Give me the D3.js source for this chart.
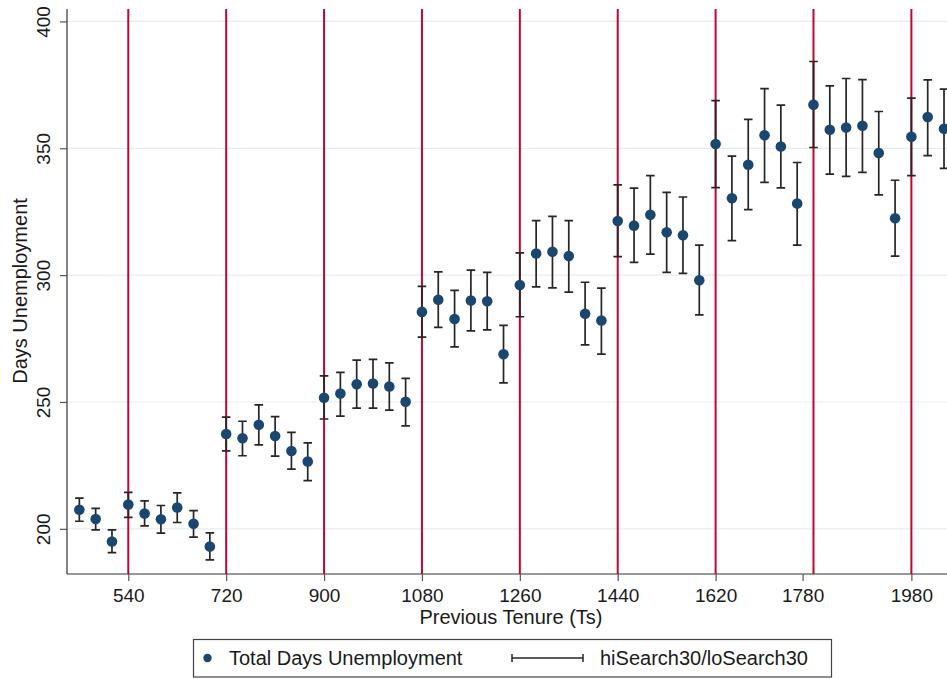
<!DOCTYPE html>
<html>
<head>
<meta charset="utf-8">
<script src="https://cdnjs.cloudflare.com/ajax/libs/d3/7.8.5/d3.min.js"></script>
<style>
    body { margin: 0; background: #fff; }
    svg { display: block; font-family: "Liberation Sans", Arial, sans-serif; }
</style>
</head>
<body>
<svg id="chart" width="947" height="679"></svg>
<script>
// previous tenure bins (Ts)
var tenure = [450, 480, 510, 540, 570, 600, 630, 660, 690, 720, 750, 780, 810, 840, 870,
    900, 930, 960, 990, 1020, 1050, 1080, 1110, 1140, 1170, 1200, 1230, 1260, 1290, 1320,
    1350, 1380, 1410, 1440, 1470, 1500, 1530, 1560, 1590, 1620, 1650, 1680, 1710, 1740,
    1770, 1800, 1830, 1860, 1890, 1920, 1950, 1980, 2010, 2040];

// Total Days Unemployment (mean)
var meanDays = [207.5, 203.9, 195.0, 209.6, 206.0, 203.8, 208.4, 202.0, 193.0, 237.4, 235.7,
    241.0, 236.6, 230.7, 226.5, 251.7, 253.3, 257.0, 257.3, 256.1, 250.1, 285.5, 290.3, 282.7,
    290.0, 289.7, 268.8, 296.1, 308.5, 309.2, 307.5, 284.8, 282.1, 321.3, 319.5, 323.8, 316.9,
    315.7, 298.0, 351.7, 330.3, 343.5, 355.1, 350.7, 328.2, 367.2, 357.3, 358.2, 358.9, 348.1,
    322.4, 354.5, 362.3, 357.7];

// hiSearch30 / loSearch30 band
var hiSearch = [212.1, 208.1, 199.6, 214.4, 211.0, 209.2, 214.2, 207.2, 198.4, 244.0, 242.4,
    248.9, 244.2, 238.0, 233.9, 260.3, 261.7, 266.5, 266.8, 265.4, 259.3, 295.6, 301.3, 294.0,
    302.0, 301.1, 280.2, 308.8, 321.5, 323.2, 321.5, 297.2, 294.9, 335.6, 334.3, 339.2, 332.6,
    330.8, 311.8, 368.8, 346.9, 361.4, 373.5, 367.0, 344.4, 384.2, 374.6, 377.5, 377.1, 364.5,
    337.4, 369.8, 377.0, 373.3];
var loSearch = [203.0, 199.6, 190.6, 204.5, 201.2, 198.3, 202.5, 196.7, 187.8, 230.7, 228.8,
    233.1, 228.7, 223.5, 219.0, 243.3, 244.4, 247.6, 247.6, 246.8, 240.6, 275.6, 279.4, 271.7,
    278.0, 278.4, 257.5, 283.6, 295.4, 295.0, 293.3, 272.5, 268.9, 307.3, 305.0, 308.3, 301.1,
    300.7, 284.3, 334.5, 313.6, 325.8, 336.6, 334.4, 311.8, 350.3, 339.8, 338.9, 340.5, 331.6,
    307.5, 339.2, 347.1, 342.1];

var xTicks = [540, 720, 900, 1080, 1260, 1440, 1620, 1780, 1980];
var yTicks = [200, 250, 300, 350, 400];
var cutoffs = [540, 720, 900, 1080, 1260, 1440, 1620, 1800, 1980];

var data = tenure.map(function (t, i) {
    return { x: t, y: meanDays[i], hi: hiSearch[i], lo: loSearch[i] };
});

var svg = d3.select("#chart");

var plot = { left: 67, right: 947, top: 9, bottom: 574 };

var x = d3.scaleLinear()
    .domain([427.3, 2045.5])
    .range([plot.left, plot.right]);

var y = d3.scaleLinear()
    .domain([182.2, 404.9])
    .range([plot.bottom, plot.top]);

var navy = "#1a476f",
    red = "#c10534",
    ink = "#262626";

// gridlines
svg.append("g")
    .selectAll("line")
    .data(yTicks)
    .enter()
    .append("line")
    .attr("x1", plot.left)
    .attr("x2", plot.right)
    .attr("y1", function (d) { return y(d); })
    .attr("y2", function (d) { return y(d); })
    .attr("stroke", "#e4edf2")
    .attr("stroke-width", 1.2);

// axes
var yAxis = svg.append("g")
    .attr("transform", "translate(" + plot.left + ",0)")
    .call(d3.axisLeft(y).tickValues(yTicks).tickSize(7).tickPadding(9));

var xAxis = svg.append("g")
    .attr("transform", "translate(0," + plot.bottom + ")")
    .call(d3.axisBottom(x).tickValues(xTicks).tickSize(7).tickPadding(8).tickFormat(d3.format("d")));

[yAxis, xAxis].forEach(function (g) {
    g.select(".domain").attr("stroke", "#333").attr("stroke-width", 1.2);
    g.selectAll(".tick line").attr("stroke", "#555").attr("stroke-width", 1.2);
    g.selectAll(".tick text")
        .attr("fill", "#1a1a1a")
        .style("font-size", "19px")
        .style("font-family", "Liberation Sans, Arial, sans-serif");
});
// stata draws the y labels rotated
yAxis.select(".domain").attr("d", "M0," + plot.top + "V" + plot.bottom);
yAxis.selectAll(".tick text")
    .attr("x", null)
    .attr("dy", null)
    .attr("text-anchor", "middle")
    .attr("transform", "translate(-17,0) rotate(-90)");
xAxis.select(".domain").attr("d", "M" + plot.left + ",0H" + plot.right);

// vertical red cutoff lines
svg.append("g")
    .selectAll("line")
    .data(cutoffs)
    .enter()
    .append("line")
    .attr("x1", function (d) { return x(d); })
    .attr("x2", function (d) { return x(d); })
    .attr("y1", plot.top)
    .attr("y2", plot.bottom)
    .attr("stroke", red)
    .attr("stroke-width", 2);

// error bars
var capW = 4.3;
var bars = svg.append("g")
    .attr("stroke", ink)
    .attr("stroke-width", 1.7)
    .attr("fill", "none");

bars.selectAll("path")
    .data(data)
    .enter()
    .append("path")
    .attr("d", function (d) {
        var cx = x(d.x), t = y(d.hi), b = y(d.lo);
        return "M" + (cx - capW) + "," + t + "H" + (cx + capW) +
            "M" + cx + "," + t + "V" + b +
            "M" + (cx - capW) + "," + b + "H" + (cx + capW);
    });

// points
svg.append("g")
    .selectAll("circle")
    .data(data)
    .enter()
    .append("circle")
    .attr("cx", function (d) { return x(d.x); })
    .attr("cy", function (d) { return y(d.y); })
    .attr("r", 5.3)
    .attr("fill", navy);

// axis titles
svg.append("text")
    .attr("x", 511)
    .attr("y", 624)
    .attr("text-anchor", "middle")
    .style("font-size", "20px")
    .attr("fill", "#1a1a1a")
    .text("Previous Tenure (Ts)");

svg.append("text")
    .attr("transform", "translate(26.5,291) rotate(-90)")
    .attr("text-anchor", "middle")
    .style("font-size", "20px")
    .attr("fill", "#1a1a1a")
    .text("Days Unemployment");

// legend
var legend = svg.append("g");
legend.append("rect")
    .attr("x", 193.5)
    .attr("y", 639.5)
    .attr("width", 638)
    .attr("height", 37.5)
    .attr("fill", "#fff")
    .attr("stroke", "#444")
    .attr("stroke-width", 1.2);

legend.append("circle")
    .attr("cx", 207.5)
    .attr("cy", 658)
    .attr("r", 4.2)
    .attr("fill", navy);

legend.append("text")
    .attr("x", 229)
    .attr("y", 665.3)
    .style("font-size", "20px")
    .attr("fill", "#1a1a1a")
    .text("Total Days Unemployment");

legend.append("path")
    .attr("d", "M512,658H583M512,654V662M583,654V662")
    .attr("stroke", ink)
    .attr("stroke-width", 1.5)
    .attr("fill", "none");

legend.append("text")
    .attr("x", 600)
    .attr("y", 665.3)
    .style("font-size", "20px")
    .attr("fill", "#1a1a1a")
    .text("hiSearch30/loSearch30");
</script>
</body>
</html>
